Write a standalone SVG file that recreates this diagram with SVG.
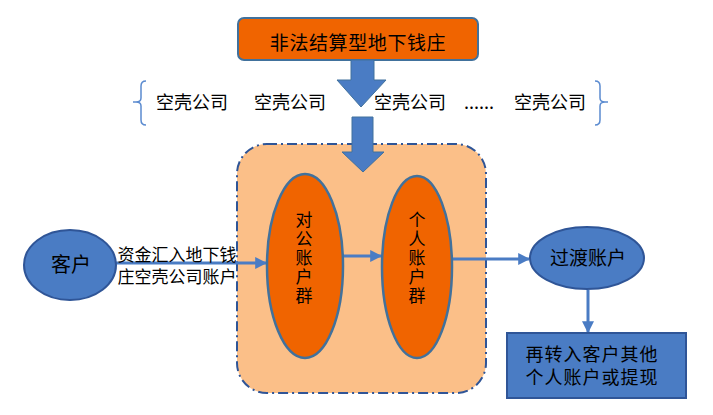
<svg xmlns="http://www.w3.org/2000/svg" width="713" height="415" viewBox="0 0 713 415">
<defs>
<style>
text{font-family:"Noto Sans CJK SC","Liberation Sans",sans-serif;fill:#000;}
text.ml{font-family:"Liberation Sans","Noto Sans CJK SC",sans-serif;}
.vert{writing-mode:vertical-rl;text-orientation:upright;font-size:17px;letter-spacing:2px;}
.conn{stroke:#4A7CC4;stroke-width:3;fill:none;}
.big{fill:#4A7CC4;stroke:#41719C;stroke-width:1;}
.orange{fill:#F06400;stroke:#41719C;stroke-width:2.5;}
.blue{fill:#4A7CC4;stroke:#2F5597;stroke-width:2;}
.brace{fill:none;stroke:#5B8BD0;stroke-width:1.5;}
</style>
<marker id="ah" viewBox="0 0 10 10" refX="9" refY="5" markerWidth="4" markerHeight="4" orient="auto" markerUnits="strokeWidth">
<path d="M0,0 L10,5 L0,10 z" fill="#4A7CC4"/>
</marker>
</defs>
<rect width="713" height="415" fill="#fff"/>

<g id="container">
<rect x="237" y="144" width="249" height="249" rx="30" fill="#FBBF88" stroke="#2F5597" stroke-width="2" stroke-dasharray="10,4,2,4"/>
</g>

<g id="top">
<rect x="238" y="18" width="240" height="42" rx="6" fill="#F06400" stroke="#41719C" stroke-width="2"/>
<text x="358" y="50" font-size="19" text-anchor="middle" letter-spacing="0.6">非法结算型地下钱庄</text>
</g>

<g id="shells">
<path class="brace" d="M146,81 Q141,81 141,86 L141,98 Q141,102 136,102 L133,102 M136,102 Q141,102 141,106 L141,120 Q141,125 146,125"/>
<path class="brace" d="M595,81 Q600,81 600,86 L600,98 Q600,102 605,102 L608,102 M605,102 Q600,102 600,106 L600,120 Q600,125 595,125"/>
<text x="192" y="109" font-size="18" text-anchor="middle">空壳公司</text>
<text x="290" y="109" font-size="18" text-anchor="middle">空壳公司</text>
<text x="410" y="109" font-size="18" text-anchor="middle">空壳公司</text>
<text x="479" y="109" font-size="18" text-anchor="middle">......</text>
<text x="550" y="109" font-size="18" text-anchor="middle">空壳公司</text>
</g>

<g id="connectors">
<path class="big" d="M351,60 L374,60 L374,80 L386,80 L361,107 L337,80 L351,80 z"/>
<path class="big" d="M352,117 L373,117 L373,152 L384,152 L363,172 L342,152 L352,152 z"/>
<line class="conn" x1="115" y1="263" x2="266" y2="263" marker-end="url(#ah)"/>
<line class="conn" x1="343" y1="256" x2="381" y2="256" marker-end="url(#ah)"/>
<line class="conn" x1="452" y1="259" x2="529" y2="259" marker-end="url(#ah)"/>
<line class="conn" x1="588" y1="290" x2="588" y2="332" marker-end="url(#ah)"/>
</g>

<g id="customer">
<ellipse cx="70" cy="265" rx="46" ry="35" class="blue"/>
<text x="71" y="272" font-size="20" text-anchor="middle">客户</text>
</g>

<g id="transfer-label">
<text class="ml" font-size="17" text-anchor="middle"><tspan x="177" y="261">资金汇入地下钱</tspan><tspan x="177" y="283">庄空壳公司账户</tspan></text>
</g>

<g id="corp">
<ellipse cx="305" cy="266" rx="38" ry="92" class="orange"/>
<text class="vert" x="304" y="211">对公账户群</text>
</g>

<g id="personal">
<ellipse cx="417" cy="267" rx="35" ry="91" class="orange"/>
<text class="vert" x="417" y="211">个人账户群</text>
</g>

<g id="transit">
<ellipse cx="587" cy="258" rx="57" ry="31" class="blue"/>
<text x="588" y="265" font-size="19" text-anchor="middle">过渡账户</text>
</g>

<g id="final">
<rect x="507" y="333" width="179" height="65" class="blue"/>
<text class="ml" font-size="18" text-anchor="middle" letter-spacing="1"><tspan x="592" y="361">再转入客户其他</tspan><tspan x="592" y="384">个人账户或提现</tspan></text>
</g>
</svg>
